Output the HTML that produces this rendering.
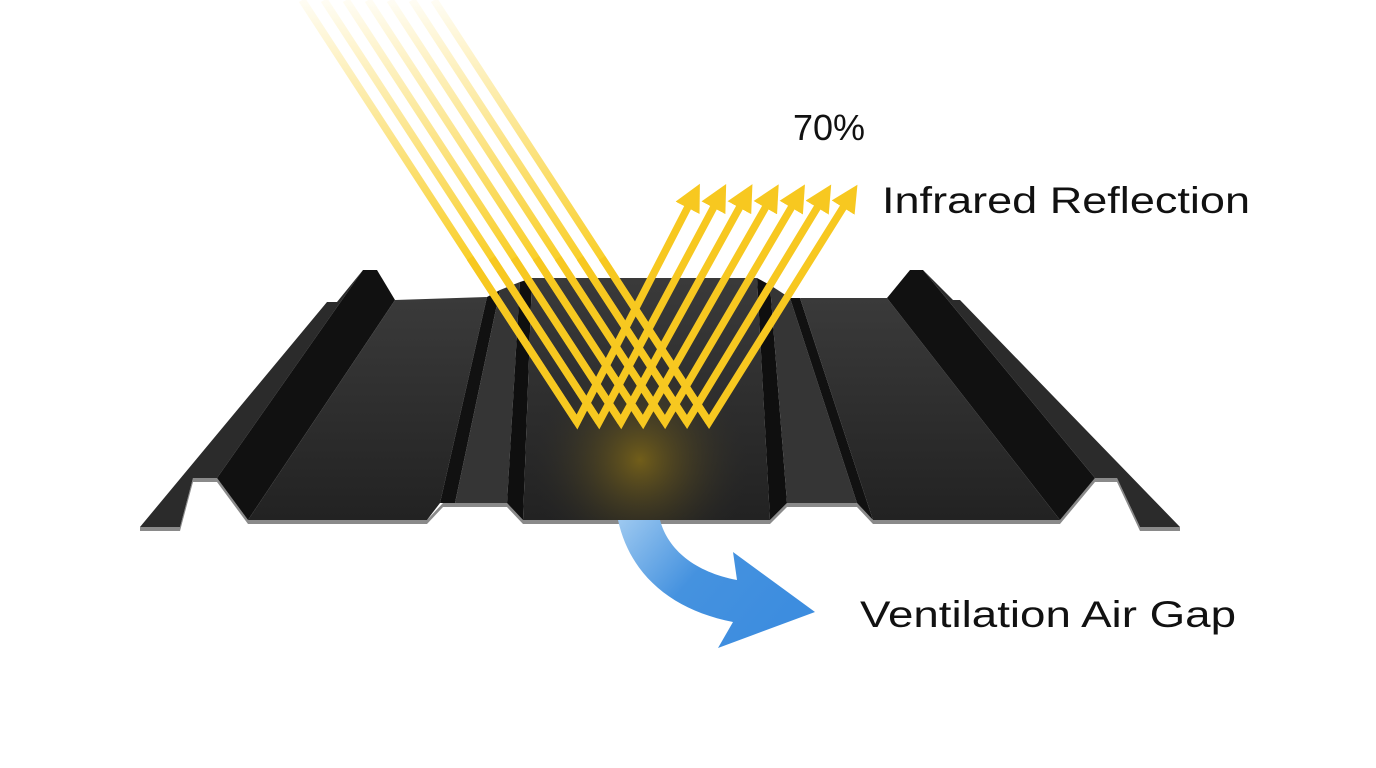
<!DOCTYPE html>
<html><head><meta charset="utf-8"><style>
html,body{margin:0;padding:0;background:#fff;}
svg{display:block;}
text{font-family:"Liberation Sans",sans-serif;fill:#111;}
</style></head><body>
<svg width="1376" height="768" viewBox="0 0 1376 768" xmlns="http://www.w3.org/2000/svg">
<defs>
<linearGradient id="panel" x1="0" y1="0" x2="0" y2="1">
<stop offset="0" stop-color="#3a3a3a"/><stop offset="1" stop-color="#222"/></linearGradient>
<linearGradient id="inc" gradientUnits="userSpaceOnUse" x1="0" y1="0" x2="0" y2="260">
<stop offset="0" stop-color="#f9cf2a" stop-opacity="0.05"/><stop offset="1" stop-color="#f9cf2a" stop-opacity="1"/></linearGradient>
<radialGradient id="glow" cx="640" cy="460" r="110" gradientUnits="userSpaceOnUse">
<stop offset="0" stop-color="#7a6418" stop-opacity="0.9"/><stop offset="1" stop-color="#2a2a2a" stop-opacity="0"/></radialGradient>
<linearGradient id="blue" gradientUnits="userSpaceOnUse" x1="620" y1="520" x2="760" y2="640">
<stop offset="0" stop-color="#9cc8f0"/><stop offset="0.5" stop-color="#4592df"/><stop offset="1" stop-color="#3d8ddf"/></linearGradient>
<marker id="ah" viewBox="0 0 10 10" refX="2" refY="5" markerWidth="3.6" markerHeight="3.6" orient="auto" markerUnits="strokeWidth">
<path d="M0,0 L10,5 L0,10 Z" fill="#f7c820"/></marker>
</defs>

<polygon points="140,531 180,531 193,482 217,482 248,524 427,524 443,507 507,507 523,524 770,524 787,507 857,507 873,524 1060,524 1095,482 1117,482 1140,531 1180,531 1180,527 1140,527 1117,478 1095,478 1060,520 873,520 857,503 787,503 770,520 523,520 507,503 443,503 427,520 248,520 217,478 193,478 180,527 140,527" fill="#8a8a8a"/>

<polygon points="140,527 327,302 337,302 363,270 217,478 193,478 180,527" fill="#2b2b2b"/>
<polygon points="363,270 377,270 395,300 248,520 217,478" fill="#111"/>
<polygon points="395,300 487,297 440,503 427,520 248,520" fill="url(#panel)"/>
<polygon points="487,297 500,290 455,503 440,503" fill="#111"/>
<polygon points="500,290 520,282 507,503 455,503" fill="#353535"/>
<polygon points="520,282 532,278 523,520 507,503" fill="#0f0f0f"/>
<polygon points="532,278 757,278 770,520 523,520" fill="url(#panel)"/>
<rect x="523" y="278" width="247" height="242" fill="url(#glow)"/>
<polygon points="757,278 770,285 787,503 770,520" fill="#0f0f0f"/>
<polygon points="770,285 790,298 857,503 787,503" fill="#353535"/>
<polygon points="790,298 800,298 873,520 857,503" fill="#111"/>
<polygon points="800,298 887,298 1060,520 873,520" fill="url(#panel)"/>
<polygon points="887,298 910,270 923,270 1095,478 1060,520" fill="#111"/>
<polygon points="923,270 953,300 960,300 1180,527 1140,527 1117,478 1095,478" fill="#2b2b2b"/>

<g stroke-width="7.5" fill="none" stroke-linejoin="miter">
<g stroke="url(#inc)">
<line x1="302" y1="0" x2="577" y2="422"/>
<line x1="324" y1="0" x2="599" y2="422"/>
<line x1="346" y1="0" x2="621" y2="422"/>
<line x1="368" y1="0" x2="643" y2="422"/>
<line x1="390" y1="0" x2="665" y2="422"/>
<line x1="412" y1="0" x2="687" y2="422"/>
<line x1="434" y1="0" x2="709" y2="422"/>
</g>
<g stroke="#f7c820" marker-end="url(#ah)">
<polyline points="470,258 577,422 690,203"/>
<polyline points="492,258 599,422 716,203"/>
<polyline points="514,258 621,422 742,203"/>
<polyline points="536,258 643,422 768,203"/>
<polyline points="558,258 665,422 794,203"/>
<polyline points="580,258 687,422 820,203"/>
<polyline points="602,258 709,422 846,203"/>
</g>
</g>

<path d="M618,520 L660,520 C668,550 695,572 737,580 L733,552 L815,612 L718,648 L733,622 C672,610 630,575 618,520 Z" fill="url(#blue)"/>

<text x="793" y="140" font-size="36">70%</text>
<text x="882" y="213" font-size="37" textLength="368" lengthAdjust="spacingAndGlyphs">Infrared Reflection</text>
<text x="860" y="627" font-size="37" textLength="376" lengthAdjust="spacingAndGlyphs">Ventilation Air Gap</text>
</svg>
</body></html>
